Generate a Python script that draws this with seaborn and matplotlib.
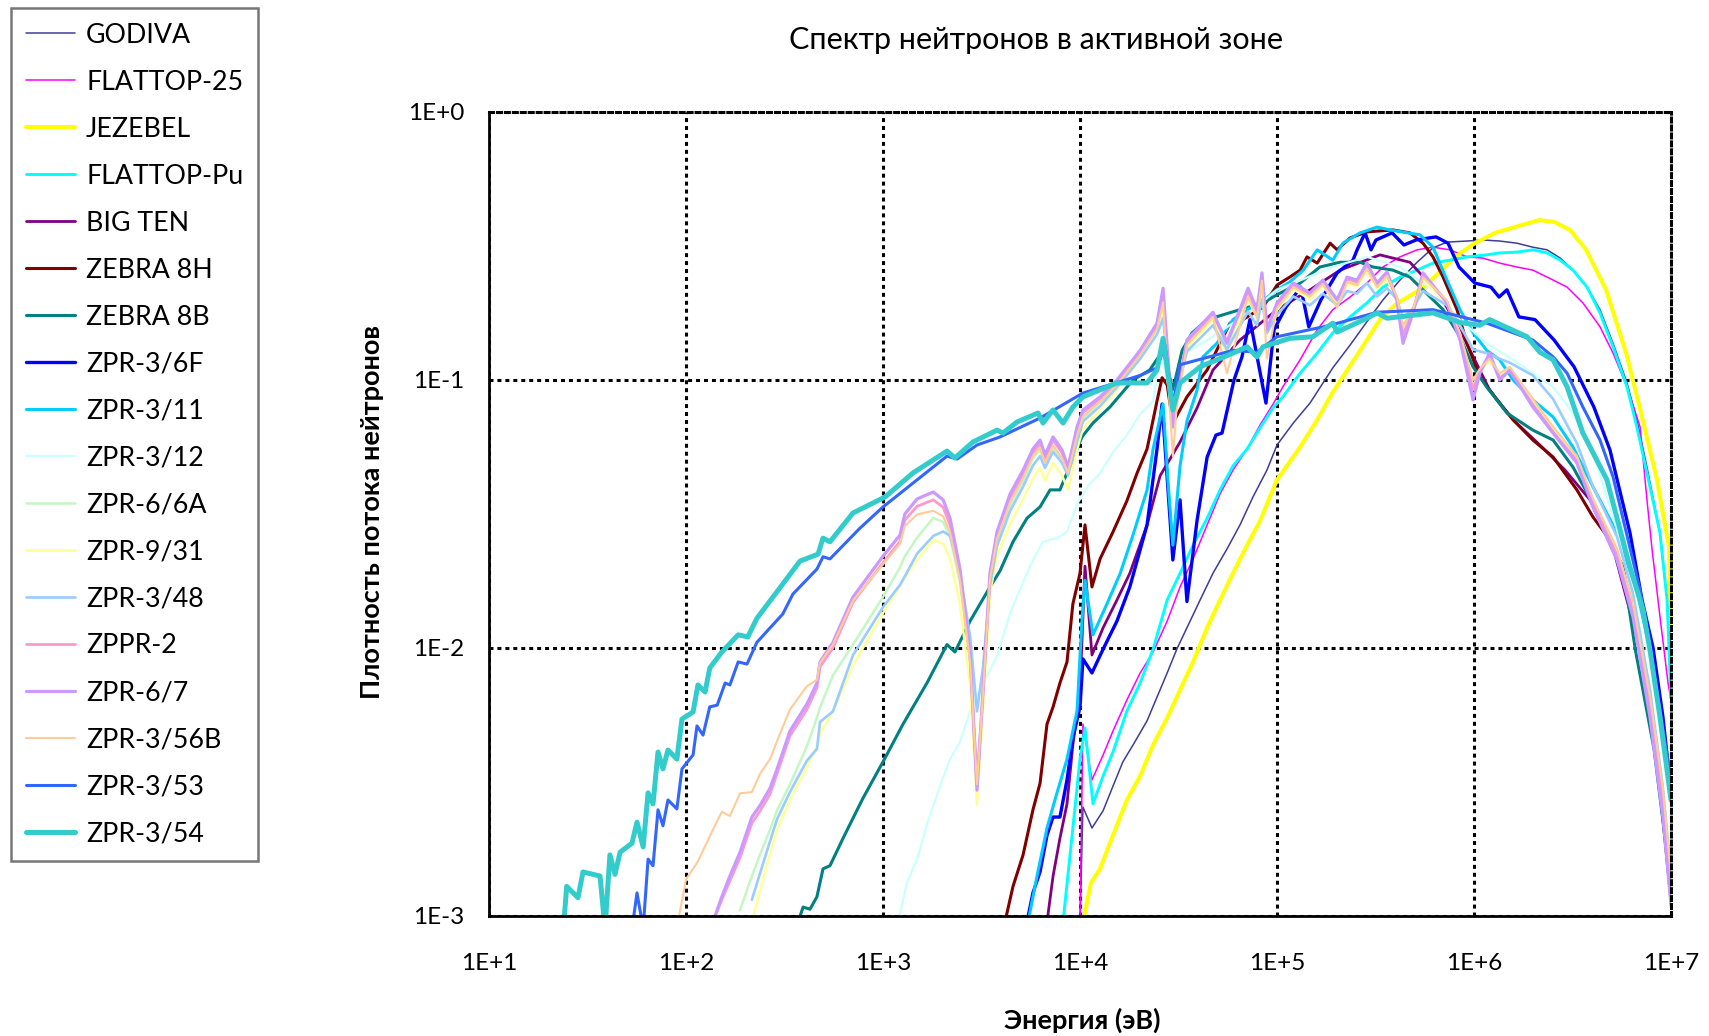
import numpy as np
import matplotlib
matplotlib.use("Agg")
import matplotlib.pyplot as plt
import matplotlib.ticker as mticker
import seaborn as sns

nan = np.nan

# ---------------- data (energy in eV, normalised flux) ----------------
GODIVA_E = [1.0e4, 1.035e4, 1.15e4, 1.31e4, 1.47e4, 1.65e4, 1.86e4, 2.19e4, 2.46e4, 2.77e4,
            3.10e4, 3.49e4, 4.07e4, 4.73e4, 5.57e4, 6.49e4, 7.55e4, 8.89e4, 1.0e5, 1.21e5,
            1.47e5, 1.92e5, 2.35e5, 2.86e5, 3.45e5, 4.21e5, 5.14e5, 6.19e5, 7.29e5, 9.21e5,
            1.11e6, 1.35e6, 1.65e6, 1.99e6, 2.35e6, 2.74e6, 3.18e6, 3.75e6, 4.36e6, 5.08e6,
            5.98e6, 6.71e6, 7.55e6, 8.79e6, 9.55e6, 1.0e7]
GODIVA_F = [0.00095, 0.00255, 0.00213, 0.00247, 0.00305, 0.00376, 0.00435, 0.00535, 0.00656, 0.00807,
            0.0099, 0.0119, 0.0151, 0.019, 0.0234, 0.0288, 0.0366, 0.0461, 0.0572, 0.0691,
            0.082, 0.111, 0.135, 0.165, 0.199, 0.236, 0.275, 0.311, 0.327, 0.33,
            0.333, 0.33, 0.324, 0.313, 0.306, 0.285, 0.257, 0.222, 0.183, 0.137,
            0.0975, 0.0709, 0.0473, 0.0269, 0.0151, 0.0098]

FLATTOP25_E = [1.0e4, 1.035e4, 1.15e4, 1.31e4, 1.47e4, 1.73e4, 2.02e4, 2.35e4, 2.77e4, 3.22e4,
               3.75e4, 4.42e4, 5.14e4, 5.98e4, 7.05e4, 8.2e4, 9.55e4, 1.07e5, 1.31e5, 1.6e5,
               1.92e5, 2.35e5, 2.86e5, 3.45e5, 4.21e5, 5.14e5, 6.19e5, 7.55e5, 9.21e5, 1.11e6,
               1.35e6, 1.65e6, 1.99e6, 2.52e6, 2.97e6, 3.57e6, 4.36e6, 5.08e6, 5.98e6, 6.97e6,
               7.55e6, 8.02e6, 8.79e6, 9.66e6, 1.0e7]
FLATTOP25_F = [0.00095, 0.0052, 0.00322, 0.00399, 0.0049, 0.0064, 0.00807, 0.00966, 0.0126, 0.0169,
               0.0215, 0.0288, 0.0376, 0.0461, 0.0553, 0.0679, 0.0813, 0.0942, 0.119, 0.154,
               0.183, 0.204, 0.230, 0.264, 0.288, 0.306, 0.313, 0.306, 0.288, 0.285,
               0.273, 0.264, 0.257, 0.236, 0.222, 0.194, 0.158, 0.126, 0.0942, 0.0668,
               0.0357, 0.0232, 0.0131, 0.0074, 0.0064]

JEZEBEL_E = [1.035e4, 1.137e4, 1.264e4, 1.47e4, 1.73e4, 2.02e4, 2.35e4, 2.77e4, 3.22e4, 3.75e4,
             4.42e4, 5.14e4, 5.98e4, 7.05e4, 8.2e4, 1.0e5, 1.31e5, 1.6e5, 1.92e5, 2.35e5,
             2.86e5, 3.33e5, 4.02e5, 4.62e5, 5.57e5, 6.41e5, 8.11e5, 1.01e6, 1.28e6, 1.61e6,
             2.14e6, 2.55e6, 3.07e6, 3.71e6, 4.68e6, 5.92e6, 7.05e6, 8.49e6, 9.77e6, 1.0e7]
JEZEBEL_F = [0.00095, 0.00133, 0.0015, 0.002, 0.00271, 0.00333, 0.00435, 0.00548, 0.00697, 0.00887,
             0.0119, 0.0151, 0.019, 0.0242, 0.0298, 0.0424, 0.0562, 0.071, 0.090, 0.113,
             0.141, 0.168, 0.192, 0.204, 0.222, 0.245, 0.29, 0.324, 0.354, 0.372,
             0.395, 0.389, 0.363, 0.306, 0.217, 0.126, 0.0753, 0.0424, 0.0238, 0.0117]

FLATTOPPU_E = [8.2e3, 9.2e3, 1.0e4, 1.06e4, 1.164e4, 1.31e4, 1.47e4, 1.73e4, 2.02e4, 2.35e4,
               2.77e4, 3.22e4, 3.75e4, 4.42e4, 5.14e4, 5.98e4, 7.05e4, 8.2e4, 9.55e4, 1.07e5,
               1.31e5, 1.6e5, 1.92e5, 2.35e5, 2.86e5, 3.45e5, 4.21e5, 5.14e5, 6.19e5, 7.55e5,
               9.21e5, 1.16e6, 1.35e6, 1.65e6, 1.99e6, 2.35e6, 2.74e6, 3.18e6, 3.75e6, 4.36e6,
               5.08e6, 5.98e6, 6.71e6, 7.55e6, 8.79e6, 9.55e6, 1.0e7]
FLATTOPPU_F = [0.00095, 0.00213, 0.00385, 0.00503, 0.00262, 0.00333, 0.00409, 0.00582, 0.0074, 0.0099,
               0.0151, 0.019, 0.0242, 0.0305, 0.0389, 0.0478, 0.0553, 0.0662, 0.0787, 0.0865,
               0.106, 0.126, 0.150, 0.172, 0.194, 0.222, 0.242, 0.257, 0.273, 0.28,
               0.288, 0.293, 0.298, 0.30, 0.306, 0.298, 0.28, 0.257, 0.222, 0.178,
               0.133, 0.0942, 0.0668, 0.045, 0.0269, 0.0151, 0.0065]

BIGTEN_E = [6.8e3, 7.3e3, 7.91e3, 8.59e3, 9.2e3, 1.0e4, 1.06e4, 1.15e4, 1.31e4, 1.54e4,
            1.79e4, 2.19e4, 2.55e4, 3.22e4, 3.93e4, 4.73e4, 6.49e4, 1.0e5, 1.47e5, 2.09e5,
            3.33e5, 4.73e5, 6.71e5, 9.0e5, 1.2e6, 1.58e6, 2.16e6, 2.9e6, 3.88e6, 5.2e6,
            6.97e6, 8.6e6, 1.0e7]
BIGTEN_F = [0.00095, 0.00141, 0.00195, 0.00262, 0.00435, 0.00697, 0.0202, 0.00942, 0.0119, 0.0151,
            0.019, 0.0288, 0.0439, 0.0587, 0.0787, 0.109, 0.141, 0.183, 0.217, 0.257,
            0.293, 0.275, 0.208, 0.141, 0.0918, 0.071, 0.0572, 0.0461, 0.0357, 0.0222,
            0.00984, 0.00382, 0.00125]

ZEBRA8H_E = [4.16e3, 4.57e3, 5.14e3, 5.77e3, 6.27e3, 6.8e3, 7.3e3, 7.91e3, 8.59e3, 9.2e3,
             1.0e4, 1.06e4, 1.15e4, 1.264e4, 1.47e4, 1.73e4, 1.95e4, 2.19e4, 2.46e4, 2.61e4,
             2.77e4, 2.96e4, 3.49e4, 4.42e4, 5.14e4, 5.77e4, 6.71e4, 8.49e4, 1.0e5, 1.16e5,
             1.31e5, 1.42e5, 1.6e5, 1.86e5, 2.02e5, 2.35e5, 2.86e5, 3.88e5, 4.73e5, 5.51e5,
             6.19e5, 6.97e5, 8.2e5, 9.21e5, 1.07e6, 1.31e6, 1.58e6, 1.99e6, 2.52e6, 3.33e6,
             4.02e6, 4.9e6, 5.7e6, 6.97e6, 8.4e6, 1.0e7]
ZEBRA8H_F = [0.00095, 0.00129, 0.00169, 0.00249, 0.00313, 0.0052, 0.00603, 0.0074, 0.00887, 0.0146,
             0.019, 0.0288, 0.0169, 0.0215, 0.0271, 0.0354, 0.045, 0.0553, 0.0835, 0.102,
             0.0958, 0.0691, 0.0865, 0.109, 0.137, 0.163, 0.168, 0.187, 0.226, 0.242,
             0.257, 0.288, 0.273, 0.324, 0.306, 0.339, 0.357, 0.363, 0.354, 0.324,
             0.288, 0.242, 0.183, 0.137, 0.103, 0.0842, 0.071, 0.0597, 0.0516, 0.0389,
             0.0308, 0.0253, 0.02, 0.00984, 0.00416, 0.00115]

ZEBRA8B_E = [371, 393, 426, 462, 496, 538, 627, 791, 1000, 1264,
             1671, 2113, 2318, 2767, 3493, 3926, 4570, 5380, 6266, 7050,
             7910, 8890, 1.023e4, 1.164e4, 1.419e4, 1.858e4, 2.26e4, 2.64e4, 2.96e4, 3.3e4,
             3.71e4, 4.42e4, 6.49e4, 8.49e4, 1.0e5, 1.31e5, 1.65e5, 2.09e5, 2.64e5, 3.07e5,
             3.88e5, 4.73e5, 6.97e5, 8.49e5, 9.89e5, 1.16e6, 1.47e6, 1.99e6, 2.52e6, 3.18e6,
             4.36e6, 5.7e6, 6.6e6, 8.2e6, 1.0e7]
ZEBRA8B_F = [0.00095, 0.00108, 0.00106, 0.00118, 0.0015, 0.00154, 0.00195, 0.00275, 0.00376, 0.0052,
             0.0074, 0.0103, 0.00966, 0.0126, 0.0169, 0.0194, 0.0249, 0.0305, 0.0336, 0.0389,
             0.0389, 0.0478, 0.0613, 0.0691, 0.0793, 0.1, 0.109, 0.129, 0.0918, 0.129,
             0.150, 0.168, 0.183, 0.194, 0.208, 0.230, 0.264, 0.275, 0.275, 0.264,
             0.257, 0.242, 0.183, 0.145, 0.112, 0.0942, 0.0753, 0.065, 0.0597, 0.0473,
             0.0311, 0.02, 0.0098, 0.0042, 0.0013]

ZPR36F_E = [5380, 5770, 6266, 6800, 7295, 7910, 8590, 9204, 1.0e4, 1.035e4,
            1.15e4, 1.31e4, 1.54e4, 1.79e4, 2.19e4, 2.46e4, 2.61e4, 2.96e4, 3.22e4, 3.49e4,
            3.93e4, 4.42e4, 4.9e4, 5.26e4, 6.05e4, 6.64e4, 7.29e4, 8.79e4, 9.66e4, 1.11e5,
            1.32e5, 1.45e5, 1.67e5, 2.02e5, 2.43e5, 2.55e5, 2.8e5, 3.0e5, 3.18e5, 3.84e5,
            4.41e5, 5.08e5, 6.41e5, 7.38e5, 8.39e5, 1.01e6, 1.22e6, 1.34e6, 1.47e6, 1.69e6,
            2.04e6, 2.55e6, 3.22e6, 4.06e6, 4.9e6, 6.19e6, 7.13e6, 8.11e6, 9.1e6, 9.89e6]
ZPR36F_F = [0.00095, 0.00122, 0.00146, 0.002, 0.00234, 0.00234, 0.00322, 0.00461, 0.00603, 0.0091,
            0.00807, 0.0099, 0.0126, 0.0169, 0.0288, 0.0553, 0.0813, 0.0213, 0.0357, 0.0149,
            0.030, 0.0516, 0.0623, 0.0634, 0.1, 0.122, 0.168, 0.082, 0.154, 0.187,
            0.222, 0.158, 0.199, 0.251, 0.28, 0.306, 0.354, 0.306, 0.333, 0.354,
            0.319, 0.333, 0.342, 0.324, 0.264, 0.230, 0.222, 0.204, 0.217, 0.172,
            0.168, 0.141, 0.112, 0.0793, 0.0548, 0.0269, 0.0151, 0.01, 0.00553, 0.00313]

ZPR311_E = [5450, 6050, 6800, 7640, 8590, 9660, 1.023e4, 1.06e4, 1.164e4, 1.37e4,
            1.6e4, 1.858e4, 2.19e4, 2.35e4, 2.64e4, 2.8e4, 2.96e4, 3.22e4, 3.49e4, 3.93e4,
            4.21e4, 4.95e4, 5.98e4, 7.05e4, 8.2e4, 1.0e5, 1.16e5, 1.36e5, 1.6e5, 1.92e5,
            2.16e5, 2.64e5, 3.22e5, 3.75e5, 5.32e5, 6.19e5, 7.29e5, 8.49e5, 9.89e5, 1.16e6,
            1.35e6, 1.58e6, 1.99e6, 2.52e6, 3.18e6, 4.02e6, 5.32e6, 6.71e6, 7.82e6, 9.1e6,
            1.0e7]
ZPR311_F = [0.00095, 0.00141, 0.00213, 0.00288, 0.00385, 0.00582, 0.0126, 0.0179, 0.0112, 0.0146,
            0.019, 0.0264, 0.0389, 0.0553, 0.0813, 0.0413, 0.0242, 0.0478, 0.0703, 0.0918,
            0.122, 0.137, 0.168, 0.183, 0.194, 0.217, 0.232, 0.257, 0.306, 0.28,
            0.324, 0.354, 0.372, 0.363, 0.348, 0.313, 0.236, 0.183, 0.150, 0.129,
            0.119, 0.1, 0.0842, 0.0728, 0.0562, 0.0399, 0.0269, 0.0164, 0.00984, 0.00482,
            0.00271]

ZPR312_E = [1191, 1324, 1489, 1671, 1946, 2188, 2460, 2767, 3221, 3793,
            4416, 5570, 6486, 7640, 8590, 9660, 1.087e4, 1.264e4, 1.47e4, 1.73e4,
            2.02e4, 2.35e4, 2.55e4, 2.92e4, 3.49e4, 4.42e4, 5.98e4, 7.55e4, 1.0e5, 1.92e5,
            2.86e5, 4.21e5, 6.19e5, 8.49e5, 1.16e6, 1.58e6, 1.99e6, 2.52e6, 3.18e6, 4.02e6,
            5.32e6, 6.97e6, 8.6e6, 1.0e7]
ZPR312_F = [0.00095, 0.00133, 0.00163, 0.0022, 0.00305, 0.00385, 0.00446, 0.00582, 0.0074, 0.00933,
            0.0135, 0.0202, 0.0249, 0.0257, 0.0271, 0.0344, 0.0399, 0.045, 0.0538, 0.0623,
            0.0746, 0.0835, 0.129, 0.084, 0.127, 0.141, 0.163, 0.183, 0.217, 0.264,
            0.288, 0.264, 0.217, 0.168, 0.137, 0.119, 0.106, 0.0942, 0.0753, 0.0535,
            0.0276, 0.0117, 0.00416, 0.00162]

# common energy grid of the six "pastel" ZPR/ZPPR spectra
PASTEL_E = [91, 100, 115, 137, 152, 167, 188, 216, 238, 267,
            290, 337, 411, 462, 479, 557, 704, 1000, 1220, 1290,
            1490, 1800, 2020, 2190, 2460, 2770, 3000, 3220, 3490, 3790,
            4420, 5140, 5770, 6270, 6640, 7300, 8110, 8690, 9660, 10350,
            12640, 15400, 20200, 24600, 26400, 29600, 31000, 34900, 47300, 55700,
            71300, 79100, 83900, 88900, 1.0e5, 1.21e5, 1.47e5, 1.71e5, 2.02e5, 2.27e5,
            2.55e5, 2.86e5, 3.22e5, 3.62e5, 4.06e5, 4.36e5, 4.9e5, 5.51e5, 7.29e5, 8.49e5,
            9.89e5, 1.07e6, 1.2e6, 1.35e6, 1.52e6, 1.99e6, 2.52e6, 3.33e6, 4.02e6, 5.32e6,
            6.41e6, 7.82e6, 9.1e6, 1.0e7]
ZPR66A_F = [nan, nan, nan, nan, nan, nan, 0.00105, 0.00141, 0.0017, 0.0021,
            0.00248, 0.0031, 0.0043, 0.0055, 0.006, 0.0079, 0.0103, 0.0155, 0.020, 0.022,
            0.0258, 0.0306, 0.0295, 0.026, 0.0175, 0.0088, 0.0033, 0.0068, 0.0175, 0.025,
            0.034, 0.042, 0.051, 0.055, 0.0485, 0.056, 0.0505, 0.0445, 0.061, 0.072,
            0.083, 0.097, 0.125, 0.155, 0.19, 0.07, 0.088, 0.136, 0.17, 0.13,
            0.205, 0.178, 0.232, 0.152, 0.186, 0.222, 0.204, 0.228, 0.195, 0.232,
            0.228, 0.258, 0.226, 0.242, 0.2, 0.155, 0.182, 0.24, 0.195, 0.148,
            0.095, 0.108, 0.118, 0.104, 0.108, 0.083, 0.066, 0.051, 0.0355, 0.023,
            0.0145, 0.0064, 0.0029, 0.0013]
ZPR931_F = [nan, nan, nan, nan, nan, nan, nan, 0.00095, 0.00125, 0.0017,
            0.0021, 0.0027, 0.0036, 0.0043, 0.0048, 0.0058, 0.0086, 0.0135, 0.017, 0.0183,
            0.0213, 0.0253, 0.0245, 0.0215, 0.0145, 0.0072, 0.0026, 0.006, 0.016, 0.022,
            0.029, 0.036, 0.043, 0.047, 0.042, 0.049, 0.044, 0.039, 0.055, 0.066,
            0.078, 0.092, 0.12, 0.15, 0.185, 0.065, 0.085, 0.132, 0.168, 0.125,
            0.2, 0.172, 0.228, 0.148, 0.182, 0.218, 0.2, 0.225, 0.19, 0.228,
            0.224, 0.255, 0.22, 0.238, 0.196, 0.15, 0.178, 0.238, 0.192, 0.145,
            0.093, 0.107, 0.12, 0.103, 0.11, 0.082, 0.066, 0.051, 0.035, 0.0228,
            0.0143, 0.0063, 0.0028, 0.0013]
ZPR348_F = [nan, nan, nan, nan, nan, nan, nan, 0.00115, 0.00145, 0.0019,
            0.0023, 0.0029, 0.0038, 0.0042, 0.0053, 0.0058, 0.0094, 0.0142, 0.0172, 0.0185,
            0.0225, 0.0262, 0.0272, 0.0262, 0.019, 0.011, 0.0058, 0.0085, 0.017, 0.024,
            0.0325, 0.040, 0.048, 0.052, 0.047, 0.054, 0.049, 0.044, 0.059, 0.07,
            0.08, 0.094, 0.12, 0.148, 0.17, 0.075, 0.09, 0.128, 0.16, 0.13,
            0.18, 0.16, 0.2, 0.15, 0.175, 0.205, 0.19, 0.21, 0.19, 0.215,
            0.21, 0.23, 0.205, 0.22, 0.2, 0.17, 0.185, 0.215, 0.19, 0.16,
            0.13, 0.128, 0.125, 0.12, 0.116, 0.104, 0.085, 0.058, 0.04, 0.026,
            0.016, 0.007, 0.003, 0.0014]
ZPPR2_F = [nan, nan, nan, 0.00095, 0.00115, 0.00135, 0.00165, 0.00222, 0.00247, 0.00285,
           0.0034, 0.0047, 0.0059, 0.0071, 0.0085, 0.0100, 0.0148, 0.0208, 0.025, 0.030,
           0.0338, 0.0357, 0.0335, 0.0288, 0.0188, 0.0092, 0.0031, 0.0068, 0.0183, 0.026,
           0.0362, 0.0445, 0.0535, 0.0578, 0.051, 0.0595, 0.0535, 0.0462, 0.065, 0.0755,
           0.085, 0.098, 0.126, 0.158, 0.205, 0.068, 0.086, 0.138, 0.175, 0.140,
           0.212, 0.180, 0.24, 0.156, 0.19, 0.226, 0.208, 0.232, 0.200, 0.238,
           0.232, 0.266, 0.228, 0.248, 0.202, 0.148, 0.180, 0.246, 0.196, 0.145,
           0.092, 0.108, 0.124, 0.102, 0.108, 0.081, 0.064, 0.050, 0.0345, 0.0222,
           0.0138, 0.0060, 0.0026, 0.0012]
ZPR67_F = [nan, nan, nan, 0.00095, 0.00118, 0.00141, 0.00173, 0.00234, 0.00259, 0.003,
           0.00354, 0.0049, 0.00618, 0.0074, 0.00887, 0.0105, 0.0155, 0.022, 0.0264, 0.0316,
           0.036, 0.0382, 0.0357, 0.0305, 0.0197, 0.00942, 0.00295, 0.00697, 0.019, 0.0271,
           0.0376, 0.0461, 0.0553, 0.0597, 0.0525, 0.0613, 0.0548, 0.0473, 0.0668, 0.0773,
           0.0865, 0.1, 0.129, 0.163, 0.22, 0.0668, 0.0865, 0.141, 0.179, 0.137,
           0.22, 0.183, 0.251, 0.154, 0.194, 0.230, 0.211, 0.236, 0.199, 0.242,
           0.236, 0.273, 0.230, 0.253, 0.199, 0.137, 0.178, 0.251, 0.194, 0.141,
           0.0842, 0.106, 0.126, 0.1, 0.109, 0.0793, 0.0634, 0.049, 0.0336, 0.0213,
           0.0131, 0.00553, 0.00234, 0.0011]
ZPR356B_F = [0.00095, 0.00137, 0.0016, 0.0021, 0.00245, 0.00236, 0.00287, 0.0029, 0.0034, 0.00385,
             0.0045, 0.0059, 0.0072, 0.0076, 0.0088, 0.0103, 0.015, 0.0205, 0.0245, 0.0285,
             0.0315, 0.0325, 0.031, 0.027, 0.0178, 0.0088, 0.0031, 0.0068, 0.018, 0.0255,
             0.035, 0.043, 0.052, 0.056, 0.049, 0.057, 0.051, 0.045, 0.062, 0.073,
             0.083, 0.096, 0.124, 0.155, 0.195, 0.052, 0.08, 0.135, 0.172, 0.106,
             0.205, 0.17, 0.235, 0.12, 0.185, 0.222, 0.205, 0.228, 0.186, 0.232,
             0.226, 0.26, 0.222, 0.245, 0.205, 0.16, 0.183, 0.242, 0.198, 0.15,
             0.1, 0.11, 0.12, 0.106, 0.112, 0.085, 0.067, 0.052, 0.036, 0.0235,
             0.0148, 0.0066, 0.003, 0.0014]

ZPR353_E = [53.8, 56.4, 60.6, 64.2, 68.0, 72.1, 76.4, 81.0, 89.9, 95.4,
            108.6, 113.7, 122, 132, 144, 158, 167, 184, 204, 229,
            310, 349, 462, 496, 538, 764, 1000, 1489, 2113, 2377,
            3000, 3926, 6266, 1.035e4, 2.02e4, 2.46e4, 2.7e4, 2.96e4, 3.22e4, 5.98e4,
            7.91e4, 1.0e5, 1.86e5, 3.22e5, 6.19e5, 1.16e6, 1.99e6, 2.52e6, 2.97e6, 3.57e6,
            4.36e6, 5.08e6, 6.97e6, 8.3e6, 1.0e7]
ZPR353_F = [0.00095, 0.00122, 0.0009, 0.00163, 0.00154, 0.00249, 0.00217, 0.00271, 0.00251, 0.00354,
            0.00399, 0.00512, 0.00473, 0.00603, 0.00612, 0.0074, 0.00728, 0.00887, 0.00871, 0.0105,
            0.0134, 0.0159, 0.0197, 0.0219, 0.0215, 0.028, 0.0336, 0.0424, 0.052, 0.0507,
            0.0572, 0.0613, 0.0721, 0.0894, 0.104, 0.111, 0.135, 0.0807, 0.114, 0.129,
            0.127, 0.145, 0.160, 0.179, 0.183, 0.163, 0.141, 0.122, 0.106, 0.0793,
            0.0597, 0.0435, 0.0164, 0.0076, 0.00322]

ZPR354_E = [24.0, 24.8, 28.3, 30.0, 36.6, 38.8, 41.1, 43.6, 46.3, 53.2,
            56.4, 60.6, 64.2, 68.0, 72.1, 76.4, 81.0, 89.9, 95.4, 108.6,
            115, 125, 132, 152, 184, 206, 229, 293, 379, 468,
            496, 538, 704, 1024, 1420, 2113, 2318, 2862, 3793, 4065,
            4786, 6123, 6486, 7295, 8204, 9204, 1.035e4, 1.54e4, 2.19e4, 2.46e4,
            2.64e4, 2.96e4, 3.22e4, 4.07e4, 5.98e4, 7.05e4, 7.91e4, 8.49e4, 1.16e5, 1.52e5,
            1.92e5, 2.02e5, 2.86e5, 3.22e5, 3.62e5, 6.19e5, 8.49e5, 1.07e6, 1.2e6, 1.86e6,
            2.16e6, 2.52e6, 2.97e6, 3.57e6, 4.73e6, 6.19e6, 7.21e6, 7.82e6, 8.79e6, 1.0e7]
ZPR354_F = [0.00095, 0.00129, 0.00117, 0.00146, 0.00141, 0.0009, 0.00169, 0.00143, 0.00173, 0.00187,
            0.00224, 0.00181, 0.00288, 0.00262, 0.00409, 0.00354, 0.00416, 0.00385, 0.00543, 0.00577,
            0.00728, 0.00685, 0.00842, 0.00966, 0.0112, 0.011, 0.0129, 0.0164, 0.0211, 0.0224,
            0.0257, 0.0249, 0.0319, 0.0366, 0.045, 0.0543, 0.0512, 0.0587, 0.065, 0.0634,
            0.0697, 0.0753, 0.0691, 0.0773, 0.0691, 0.0793, 0.0865, 0.0975, 0.0975, 0.109,
            0.143, 0.0773, 0.0975, 0.112, 0.126, 0.133, 0.122, 0.133, 0.143, 0.145,
            0.163, 0.151, 0.170, 0.178, 0.170, 0.178, 0.164, 0.160, 0.168, 0.145,
            0.127, 0.119, 0.0942, 0.0634, 0.0424, 0.02, 0.0139, 0.00984, 0.00553, 0.00271]

NAMES = ["GODIVA", "FLATTOP-25", "JEZEBEL", "FLATTOP-Pu", "BIG TEN", "ZEBRA 8H", "ZEBRA 8B",
         "ZPR-3/6F", "ZPR-3/11", "ZPR-3/12", "ZPR-6/6A", "ZPR-9/31", "ZPR-3/48", "ZPPR-2",
         "ZPR-6/7", "ZPR-3/56B", "ZPR-3/53", "ZPR-3/54"]
ENERGIES = [GODIVA_E, FLATTOP25_E, JEZEBEL_E, FLATTOPPU_E, BIGTEN_E, ZEBRA8H_E, ZEBRA8B_E,
            ZPR36F_E, ZPR311_E, ZPR312_E, PASTEL_E, PASTEL_E, PASTEL_E, PASTEL_E,
            PASTEL_E, PASTEL_E, ZPR353_E, ZPR354_E]
FLUXES = [GODIVA_F, FLATTOP25_F, JEZEBEL_F, FLATTOPPU_F, BIGTEN_F, ZEBRA8H_F, ZEBRA8B_F,
          ZPR36F_F, ZPR311_F, ZPR312_F, ZPR66A_F, ZPR931_F, ZPR348_F, ZPPR2_F,
          ZPR67_F, ZPR356B_F, ZPR353_F, ZPR354_F]

COLORS = ["#3D3D99", "#FF00FF", "#FFFF00", "#00FFFF", "#800080", "#800000", "#008080",
          "#0000FF", "#00CCFF", "#CCFFFF", "#C4F7C4", "#FFFF99", "#99CCFF", "#FF99CC",
          "#CC99FF", "#FFCC99", "#3366FF", "#33CCCC"]
WIDTHS = [1.1, 1.1, 2.9, 2.1, 2.0, 2.2, 2.2, 2.4, 2.2, 1.6, 1.8, 1.8, 1.9, 2.0, 2.3, 1.5, 2.2, 3.6]

# ---------------- style ----------------
sns.set_style("white")
plt.rcParams['font.family'] = ['Lato', 'DejaVu Sans']

W, H = 1709, 1036
fig = plt.figure(figsize=(W / 100, H / 100), dpi=100)
ax = fig.add_axes([489 / W, 1 - 916 / H, 1182 / W, 804 / H])
ax.set_xscale('log')
ax.set_yscale('log')

for name, e, f, c, lw in zip(NAMES, ENERGIES, FLUXES, COLORS, WIDTHS):
    sns.lineplot(x=e, y=f, ax=ax, color=c, linewidth=lw, label=name,
                 estimator=None, sort=False, errorbar=None)

ax.set_xlim(10, 1e7)
ax.set_ylim(1e-3, 1)

dots = (0, (1.3, 1.3))
ax.grid(True, which='major', color='black', linestyle=dots, linewidth=2.2)
ax.grid(False, which='minor')
ax.set_axisbelow(True)
for s in ['top', 'right']:
    ax.spines[s].set_visible(True)
    ax.spines[s].set_linestyle(dots)
    ax.spines[s].set_linewidth(2.2)
    ax.spines[s].set_color('black')
for s in ['left', 'bottom']:
    ax.spines[s].set_linewidth(2.0)
    ax.spines[s].set_color('black')

ax.xaxis.set_major_locator(mticker.LogLocator(base=10, numticks=20))
ax.yaxis.set_major_locator(mticker.LogLocator(base=10, numticks=20))
ax.xaxis.set_minor_locator(mticker.LogLocator(base=10, subs=np.arange(2, 10), numticks=100))
ax.yaxis.set_minor_locator(mticker.LogLocator(base=10, subs=np.arange(2, 10), numticks=100))
fmt = mticker.FuncFormatter(lambda v, p: f"1E{int(round(np.log10(v))):+d}")
ax.xaxis.set_major_formatter(fmt)
ax.yaxis.set_major_formatter(fmt)
ax.xaxis.set_minor_formatter(mticker.NullFormatter())
ax.yaxis.set_minor_formatter(mticker.NullFormatter())
ax.tick_params(which='both', direction='in', color='black', labelsize=17.5, labelcolor='black')
ax.tick_params(which='major', length=7, width=1.5)
ax.tick_params(which='minor', length=5, width=1.2)
ax.tick_params(axis='x', which='major', pad=27)
ax.tick_params(axis='y', which='major', pad=18)
ax.set_xlabel("")
ax.set_ylabel("")

fig.text(1036 / W, 1 - 40 / H, "Спектр нейтронов в активной зоне", ha='center', va='center',
         fontsize=22, color='black')
fig.text(372 / W, 1 - 512 / H, "Плотность потока нейтронов", rotation=90, ha='center',
         va='center', fontsize=19.5, fontweight='bold', color='black')
fig.text(1082 / W, 1 - 1020 / H, "Энергия (эВ)", ha='center', va='center', fontsize=19.5,
         fontweight='bold', color='black')

handles, labels = ax.get_legend_handles_labels()
if ax.get_legend() is not None:
    ax.get_legend().remove()
leg = fig.legend(handles, labels, loc='upper left', bbox_to_anchor=(11 / W, 1 - 8 / H),
                 bbox_transform=fig.transFigure, frameon=True, fancybox=False,
                 edgecolor='#555555', fontsize=19.3, handlelength=1.85, handletextpad=0.4,
                 labelspacing=0.82, borderpad=0.55, borderaxespad=0)
leg.get_frame().set_linewidth(1.8)
for t in leg.get_texts():
    t.set_color('black')

fig.savefig("out.png", dpi=100)
